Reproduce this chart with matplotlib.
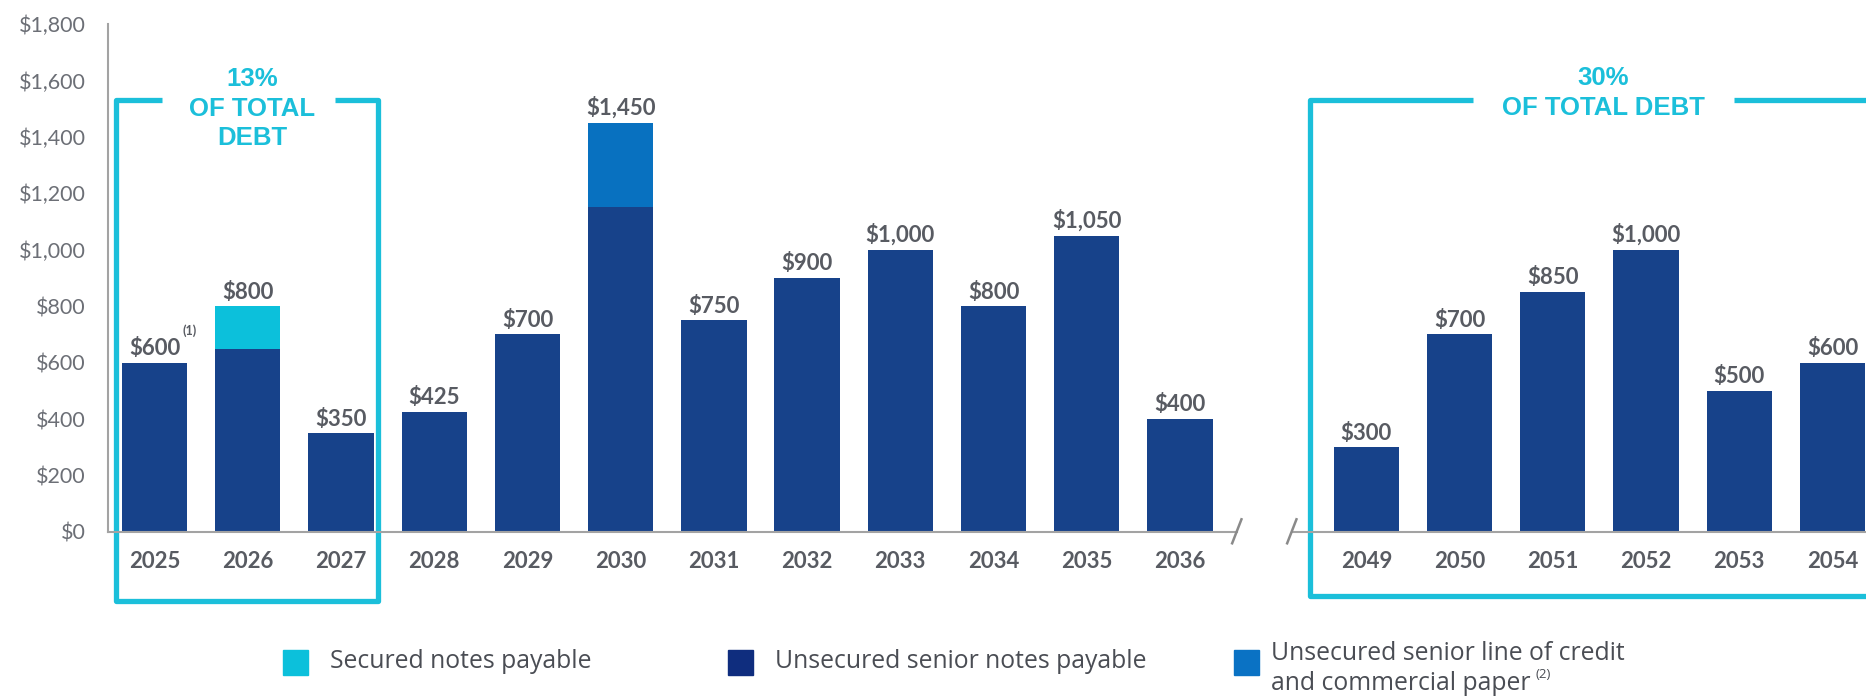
import matplotlib.pyplot as plt
from matplotlib.lines import Line2D
from matplotlib.patches import Rectangle
import numpy as np

plt.rcParams['font.family'] = ['Lato', 'DejaVu Sans']

# debt maturities by year, $ millions
years = ['2025', '2026', '2027', '2028', '2029', '2030', '2031', '2032', '2033',
         '2034', '2035', '2036', '2049', '2050', '2051', '2052', '2053', '2054']
unsecured_notes = [600, 650, 350, 425, 700, 1150, 750, 900, 1000,
                   800, 1050, 400, 300, 700, 850, 1000, 500, 600]
secured_notes = [0, 150, 0, 0, 0, 0, 0, 0, 0,
                 0, 0, 0, 0, 0, 0, 0, 0, 0]
credit_line = [0, 0, 0, 0, 0, 300, 0, 0, 0,
               0, 0, 0, 0, 0, 0, 0, 0, 0]
y_ticks = [0, 200, 400, 600, 800, 1000, 1200, 1400, 1600, 1800]
legend_labels = ['Secured notes payable', 'Unsecured senior notes payable',
                 'Unsecured senior line of credit']

NAVY = '#17428A'
CYAN = '#0CC0DB'
BLUE = '#0871C0'
BOX = '#1BBFDA'
AXIS = '#a3a3a3'
TXT = '#585b62'

W, H = 1866, 700
fig = plt.figure(figsize=(W / 100, H / 100), dpi=100)
ax = fig.add_axes([108 / W, 168 / H, 1 - 108 / W, 508 / H])

# leave an empty slot after 2036 for the axis break
idx = np.arange(len(years))
pos = idx + (idx >= 12)
unsec = np.array(unsecured_notes)
sec = np.array(secured_notes)
loc = np.array(credit_line)
totals = unsec + sec + loc

bw = 0.70
ax.bar(pos, unsec, width=bw, color=NAVY, zorder=2)
ax.bar(pos, sec, width=bw, bottom=unsec, color=CYAN, zorder=2)
ax.bar(pos, loc, width=bw, bottom=unsec + sec, color=BLUE, zorder=2)

for p, t in zip(pos, totals):
    ax.annotate(f'${t:,.0f}', (p, t), xytext=(0, 5.5), textcoords='offset points',
                ha='center', va='baseline', fontsize=16, fontweight='bold',
                color=TXT)
ax.annotate('(1)', (pos[0], totals[0]), xytext=(25.5, 23), textcoords='offset points',
            ha='center', va='center', fontsize=9, fontweight='bold', color=TXT)

ax.set_xlim(-0.5, 18.36)
ax.set_ylim(0, 1800)
ax.set_yticks(y_ticks, [f'${v:,}' for v in y_ticks])
ax.set_xticks(pos, years)
ax.tick_params(axis='both', length=0, labelsize=15.5, colors='#6c6f76')
ax.tick_params(axis='x', pad=14, labelsize=16, labelcolor=TXT)
ax.tick_params(axis='y', pad=16)
for lab in ax.get_xticklabels():
    lab.set_fontweight('bold')

for s in ['top', 'right', 'bottom']:
    ax.spines[s].set_visible(False)
ax.spines['left'].set_color(AXIS)
ax.spines['left'].set_linewidth(1.5)

# broken baseline
ax.add_line(Line2D([-0.5, 11.61], [0, 0], color=AXIS, lw=1.5, clip_on=False, zorder=3))
ax.add_line(Line2D([12.2, 18.4], [0, 0], color=AXIS, lw=1.5, clip_on=False, zorder=3))
for bx in (11.61, 12.2):
    ax.add_line(Line2D([bx - 0.05, bx + 0.05], [-40, 45], color='#8a8a8a', lw=1.8,
                       clip_on=False, zorder=3))

# near-term and long-dated brackets
lw_box = 3.8
ax.add_line(Line2D([0.08, -0.41, -0.41, 2.40, 2.40, 1.93],
                   [1532, 1532, -245, -245, 1532, 1532], color=BOX, lw=lw_box,
                   clip_on=False, solid_joinstyle='round', solid_capstyle='butt'))
ax.text(1.046, 1500, '13%\nOF TOTAL\nDEBT', ha='center', va='center',
        fontsize=18.5, fontweight='bold', color=BOX, linespacing=1.3,
        family='Liberation Sans')

ax.add_line(Line2D([14.14, 12.40, 12.40, 19.0], [1532, 1532, -228, -228],
                   color=BOX, lw=lw_box, clip_on=False, solid_joinstyle='round',
                   solid_capstyle='butt'))
ax.add_line(Line2D([16.94, 19.0], [1532, 1532], color=BOX, lw=lw_box,
                   clip_on=False, solid_capstyle='butt'))
ax.text(15.54, 1556, '30%\nOF TOTAL DEBT', ha='center', va='center',
        fontsize=18.5, fontweight='bold', color=BOX, linespacing=1.3,
        family='Liberation Sans')

# legend along the bottom
def px(x, y):
    return x / W, 1 - y / H

LEG_TXT = '#4a4d54'
LEG_FONT = dict(fontsize=17.8, family='Open Sans', color=LEG_TXT)
leg = [(283, 330, 662, CYAN, legend_labels[0]),
       (728, 775, 662, '#0F2D7E', legend_labels[1]),
       (1234, 1271, 654, '#0A72C4', legend_labels[2])]
for sx, tx, ty, col, lab in leg:
    x0, y0 = px(sx, 675)
    fig.add_artist(Rectangle((x0, y0), 25 / W, 25 / H, transform=fig.transFigure,
                             color=col))
    fig.text(*px(tx, ty), lab, ha='left', va='center', **LEG_FONT)
t2 = fig.text(*px(1271, 683), 'and commercial paper', ha='left', va='center',
              **LEG_FONT)
fig.canvas.draw()
bb = t2.get_window_extent()
fig.text((bb.x1 + 5) / W, 1 - 674 / H, '(2)', ha='left', va='center',
         fontsize=9.5, family='Open Sans', color=LEG_TXT)

fig.savefig('out.png', dpi=100)
